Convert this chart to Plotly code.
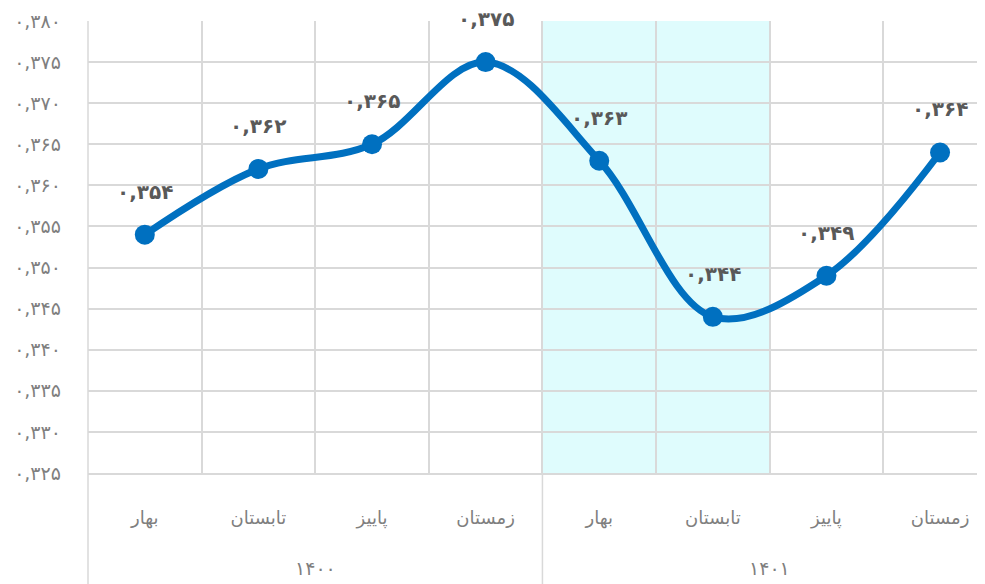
import plotly.graph_objects as go

seasons = ["بهار", "تابستان", "پاییز", "زمستان", "بهار", "تابستان", "پاییز", "زمستان"]
years = ["۱۴۰۰", "۱۴۰۱"]
values = [0.354, 0.362, 0.365, 0.375, 0.363, 0.344, 0.349, 0.364]
y_ticks = [0.325, 0.330, 0.335, 0.340, 0.345, 0.350, 0.355, 0.360, 0.365, 0.370, 0.375, 0.380]
highlight_range = (4, 5)  # indices of highlighted categories

FA = str.maketrans("0123456789.", "۰۱۲۳۴۵۶۷۸۹,")


def fa(v, nd=3):
    return f"{v:.{nd}f}".translate(FA)


x_idx = list(range(len(values)))
x_range = [-0.5, 7.466]

FONT = "DejaVu Sans"
BLUE = "#0070C0"
GRID = "#d9d9d9"

fig = go.Figure()
fig.add_trace(go.Scatter(
    x=x_idx, y=values, mode="lines+markers",
    line=dict(color=BLUE, width=7, shape="spline", smoothing=1),
    marker=dict(color=BLUE, size=20),
    hoverinfo="skip", cliponaxis=False,
))

annotations = []
for i, v in zip(x_idx, values):
    annotations.append(dict(
        x=i, y=v, xref="x", yref="y", text=f"<b>{fa(v)}</b>", showarrow=False,
        yshift=43, font=dict(family=FONT, size=20, color="#595959"),
    ))
for g, yr in enumerate(years):
    annotations.append(dict(
        x=g * 4 + 1.5, y=-0.21, xref="x", yref="paper", text=yr, showarrow=False,
        yanchor="middle", font=dict(family=FONT, size=19, color="#7f7f7f"),
    ))

shapes = [
    dict(type="rect", xref="x", yref="paper", x0=highlight_range[0] - 0.5, x1=highlight_range[1] + 0.5,
         y0=0, y1=1, fillcolor="#dffcfd", line=dict(width=0), layer="below"),
    dict(type="line", xref="paper", yref="paper", x0=0, x1=0, y0=-0.25, y1=1,
         line=dict(color=GRID, width=1.5)),
    dict(type="line", xref="x", yref="paper", x0=3.5, x1=3.5, y0=-0.25, y1=0,
         line=dict(color=GRID, width=1.5)),
]

fig.update_layout(
    width=985, height=576,
    margin=dict(l=80, r=0, t=13, b=111, autoexpand=False),
    paper_bgcolor="white", plot_bgcolor="white",
    showlegend=False,
    annotations=annotations, shapes=shapes,
    xaxis=dict(
        range=x_range, tickmode="array", tickvals=x_idx, ticktext=seasons, automargin=False,
        showgrid=False, zeroline=False, showline=True, linecolor=GRID, linewidth=1.5,
        ticks="", ticklabelstandoff=28,
        tickfont=dict(family=FONT, size=18, color="#7f7f7f"),
        minor=dict(tickmode="linear", tick0=0.5, dtick=1, showgrid=True, gridcolor=GRID, gridwidth=1.5, ticks=""),
    ),
    yaxis=dict(
        range=[y_ticks[0], y_ticks[-1]], tickmode="array", tickvals=y_ticks, automargin=False,
        ticktext=[fa(t) for t in y_ticks],
        showgrid=True, gridcolor=GRID, gridwidth=1.5, zeroline=False, showline=False,
        ticks="", ticklabelstandoff=26,
        tickfont=dict(family=FONT, size=19, color="#7f7f7f"),
    ),
)

fig.write_html("out.html")
